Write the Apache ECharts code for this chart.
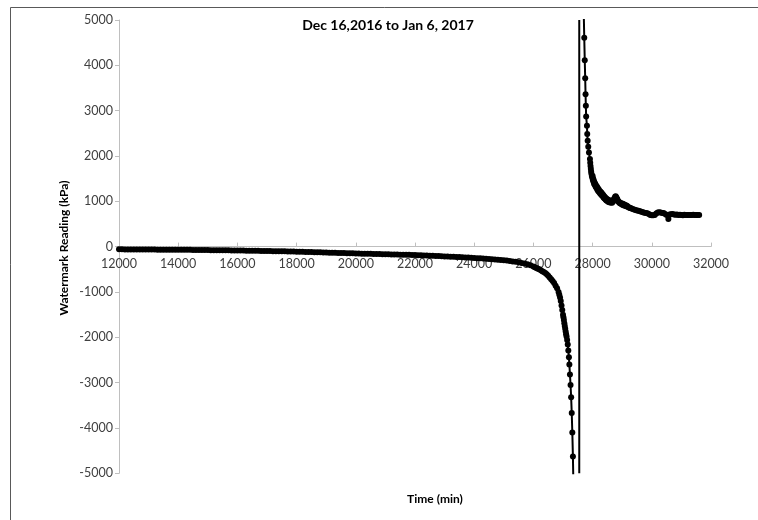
<!DOCTYPE html>
<html><head><meta charset="utf-8">
<script src="https://cdn.jsdelivr.net/npm/echarts@6/dist/echarts.min.js"></script>
<style>html,body{margin:0;padding:0;background:#fff}#c{width:758px;height:520px}</style>
</head><body><div id="c"></div>
<script>
// Lower branch (before the asymptote): time (min) and reading (kPa)
const lowerTime = [
12000,12100,12200,12300,12400,12500,12600,12700,12800,12900,
13000,13100,13200,13300,13400,13500,13600,13700,13800,13900,
14000,14100,14200,14300,14400,14500,14600,14700,14800,14900,
15000,15100,15200,15300,15400,15500,15600,15700,15800,15900,
16000,16100,16200,16300,16400,16500,16600,16700,16800,16900,
17000,17100,17200,17300,17400,17500,17600,17700,17800,17900,
18000,18100,18200,18300,18400,18500,18600,18700,18800,18900,
19000,19100,19200,19300,19400,19500,19600,19700,19800,19900,
20000,20100,20200,20300,20400,20500,20600,20700,20800,20900,
21000,21100,21200,21300,21400,21500,21600,21700,21800,21900,
22000,22100,22200,22300,22400,22500,22600,22700,22800,22900,
23000,23100,23200,23300,23400,23500,23600,23700,23800,23900,
24000,24100,24200,24300,24400,24500,24600,24700,24800,24900,
25000,25100,25200,25300,25400,25500,25600,25700,25800,25900,
26000,26050,26100,26150,26200,26250,26300,26350,26400,26450,
26500,26550,26600,26650,26700,26750,26800,26850,26875,26900,
26925,26950,26975,27000,27015,27030,27045,27060,27075,27090,
27105,27120,27140,27160,27180,27200,27215,27235,27255,27275,
27295,27315,27335,27360];
const lowerValue = [
-60,-60,-61,-61,-62,-62,-63,-63,-64,-64,
-64,-65,-65,-66,-66,-66,-67,-67,-67,-68,
-68,-69,-69,-70,-71,-72,-72,-73,-74,-75,
-76,-77,-77,-78,-79,-80,-81,-82,-83,-84,
-85,-86,-87,-88,-89,-90,-91,-93,-94,-95,
-96,-97,-99,-100,-101,-103,-104,-105,-107,-108,
-110,-112,-114,-116,-118,-120,-122,-124,-126,-128,
-130,-132,-134,-136,-138,-140,-142,-144,-146,-148,
-150,-152,-154,-156,-157,-159,-161,-163,-164,-166,
-168,-170,-171,-173,-175,-176,-178,-180,-181,-183,
-185,-188,-191,-194,-197,-200,-203,-206,-209,-212,
-215,-218,-221,-224,-228,-231,-235,-238,-242,-246,
-250,-254,-258,-263,-268,-273,-278,-283,-288,-294,
-300,-308,-316,-325,-335,-345,-358,-372,-390,-410,
-440,-455,-470,-485,-500,-520,-540,-560,-580,-610,
-640,-680,-720,-760,-800,-860,-920,-1000,-1060,-1120,
-1200,-1300,-1400,-1500,-1560,-1620,-1690,-1750,-1810,-1870,
-1930,-1980,-2060,-2160,-2290,-2440,-2600,-2820,-3050,-3320,
-3670,-4100,-4630,-5600];

// Upper branch (after the asymptote)
const upperTime = [
27690,27718,27735,27750,27762,27772,27782,27809,27819,27833,
27853,27877,27910,27920,27930,27940,27950,27960,27975,27990,
28000,28010,28020,28030,28040,28050,28060,28075,28090,28105,
28120,28135,28150,28165,28180,28195,28210,28225,28240,28255,
28270,28285,28300,28315,28330,28345,28360,28375,28390,28405,
28420,28435,28450,28465,28480,28495,28510,28525,28540,28555,
28570,28585,28600,28620,28640,28660,28680,28700,28720,28740,
28760,28780,28800,28820,28840,28860,28880,28900,28920,28940,
28960,28980,29000,29020,29040,29060,29080,29100,29120,29140,
29160,29180,29210,29240,29270,29300,29350,29400,29450,29500,
29550,29600,29650,29700,29750,29800,29850,29900,29950,30000,
30050,30100,30150,30200,30250,30300,30350,30400,30450,30500,
30560,30600,30650,30700,30750,30800,30850,30900,30950,31000,
31050,31100,31150,31200,31250,31300,31350,31400,31450,31500,
31550,31600];
const upperValue = [
5500,4610,4113,3716,3364,3106,2870,2666,2483,2335,
2203,2078,1932,1850,1780,1720,1660,1610,1560,1520,
1560,1470,1500,1430,1460,1390,1420,1360,1390,1320,
1350,1290,1320,1250,1290,1220,1260,1200,1230,1170,
1210,1150,1190,1130,1160,1110,1140,1080,1110,1060,
1090,1040,1070,1020,1050,1010,1040,990,1030,985,
1020,975,1000,975,995,970,1010,1000,1050,1060,
1100,1110,1090,1060,1040,1000,995,970,975,950,
960,935,950,920,940,910,925,900,915,890,
900,880,875,860,855,845,830,820,810,800,
790,780,770,760,750,745,735,720,700,690,
690,700,730,755,760,755,745,740,720,700,
610,710,715,720,710,705,710,700,705,700,
695,705,700,700,700,698,700,702,698,700,
700,700];

// Vertical asymptote
const asymptoteTime = [27549, 27549];
const asymptoteValue = [-5000, 5000];

const xTicks = {min: 12000, max: 32000, interval: 2000};
const yTicks = {min: -5000, max: 5000, interval: 1000};

const zip = (a, b) => a.map((v, i) => [v, b[i]]);
const FONT = 'Lato';
const plain = v => String(v);
const chart = echarts.init(document.getElementById('c'), null, {renderer: 'canvas'});
chart.setOption({
  animation: false,
  backgroundColor: '#fff',
  grid: {left: 119, right: 47, top: 20, bottom: 46.7, containLabel: false},
  xAxis: {
    type: 'value', min: xTicks.min, max: xTicks.max, interval: xTicks.interval,
    offset: -226.7,
    axisLine: {show: true, onZero: false, lineStyle: {color: '#bfbfbf', width: 1}},
    axisTick: {show: true, inside: true, length: 4, lineStyle: {color: '#bfbfbf'}},
    axisLabel: {color: '#404040', fontFamily: FONT, fontSize: 12.5, margin: 11, formatter: plain},
    splitLine: {show: false}
  },
  yAxis: {
    type: 'value', min: yTicks.min, max: yTicks.max, interval: yTicks.interval,
    axisLine: {show: true, onZero: false, lineStyle: {color: '#bfbfbf', width: 1}},
    axisTick: {show: true, length: 4, lineStyle: {color: '#bfbfbf'}},
    axisLabel: {color: '#404040', fontFamily: FONT, fontSize: 12.5, margin: 6, formatter: plain},
    splitLine: {show: false}
  },
  graphic: [
    {type: 'rect', shape: {x: 10.5, y: 7.5, width: 900, height: 700}, style: {fill: null, stroke: '#595959', lineWidth: 1}, silent: true, z: -1},
    {type: 'text', x: 388, y: 25, style: {text: 'Dec 16,2016 to Jan 6, 2017', fill: '#000', font: 'bold 14px Lato', align: 'center', verticalAlign: 'middle'}},
    {type: 'text', x: 435, y: 499, style: {text: 'Time (min)', fill: '#000', font: 'bold 12px Lato', align: 'center', verticalAlign: 'middle'}},
    {type: 'text', x: 64, y: 248, rotation: Math.PI / 2, style: {text: 'Watermark Reading (kPa)', fill: '#000', font: 'bold 12px Lato', align: 'center', verticalAlign: 'middle'}}
  ],
  series: [
    {type: 'line', data: zip(lowerTime, lowerValue), symbol: 'circle', symbolSize: 6, showSymbol: true,
     itemStyle: {color: '#000'}, lineStyle: {color: '#000', width: 2}, clip: true},
    {type: 'line', data: zip(upperTime, upperValue), symbol: 'circle', symbolSize: 6, showSymbol: true,
     itemStyle: {color: '#000'}, lineStyle: {color: '#000', width: 2}, clip: true},
    {type: 'line', data: zip(asymptoteTime, asymptoteValue), symbol: 'none',
     lineStyle: {color: '#000', width: 2}, clip: true}
  ]
});
</script></body></html>
